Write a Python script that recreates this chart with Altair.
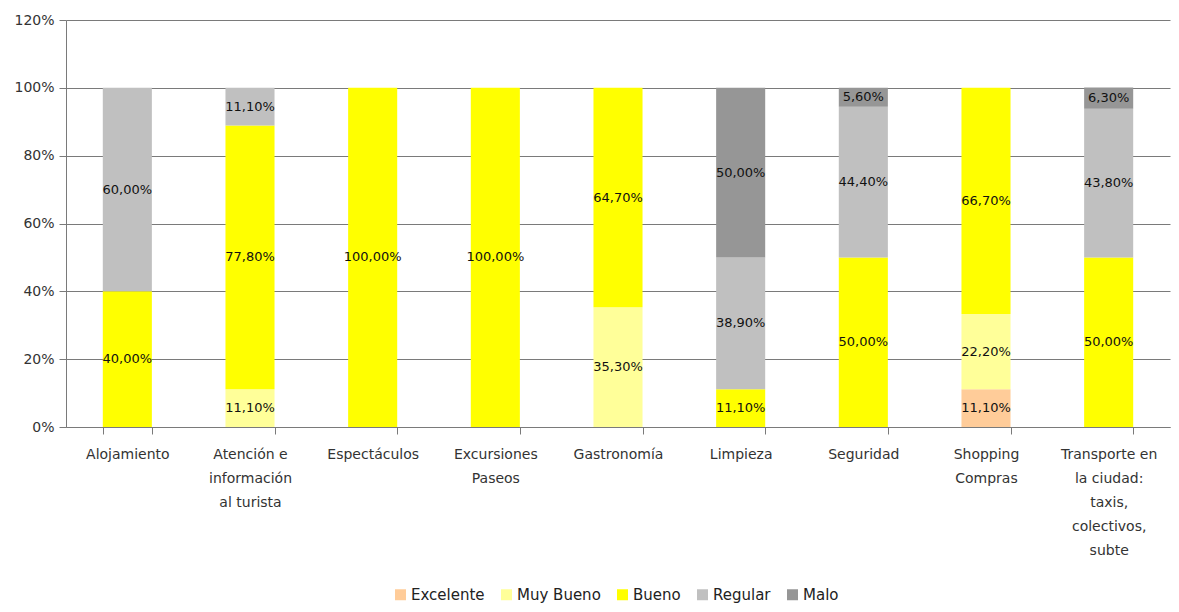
import altair as alt
import pandas as pd

categories = [
    "Alojamiento",
    "Atención e|información|al turista",
    "Espectáculos",
    "Excursiones|Paseos",
    "Gastronomía",
    "Limpieza",
    "Seguridad",
    "Shopping|Compras",
    "Transporte en|la ciudad:|taxis,|colectivos,|subte",
]
series = ["Excelente", "Muy Bueno", "Bueno", "Regular", "Malo"]
colors = ["#FFCC99", "#FFFF99", "#FFFF00", "#C0C0C0", "#969696"]

excelente = [0, 0, 0, 0, 0, 0, 0, 11.1, 0]
muy_bueno = [0, 11.1, 0, 0, 35.3, 0, 0, 22.2, 0]
bueno = [40.0, 77.8, 100.0, 100.0, 64.7, 11.1, 50.0, 66.7, 50.0]
regular = [60.0, 11.1, 0, 0, 0, 38.9, 44.4, 0, 43.8]
malo = [0, 0, 0, 0, 0, 50.0, 5.6, 0, 6.3]

y_ticks = [0, 20, 40, 60, 80, 100, 120]

rows = []
for si, (s, vals) in enumerate(zip(series, [excelente, muy_bueno, bueno, regular, malo])):
    for c, v in zip(categories, vals):
        if v > 0:
            rows.append({
                "cat": c,
                "serie": s,
                "ord": si,
                "value": v,
                "label": f"{v:.2f}".replace(".", ",") + "%",
            })
df = pd.DataFrame(rows)

FONT = "DejaVu Sans"
GRID = "#7a7a7a"

x_enc = alt.X(
    "cat:N",
    sort=categories,
    title=None,
    scale=alt.Scale(paddingInner=0.6, paddingOuter=0.3),
    axis=alt.Axis(
        labelAngle=0,
        labelExpr="split(datum.label, '|')",
        labelFont=FONT,
        labelFontSize=14,
        labelColor="#333333",
        labelLineHeight=24,
        labelPadding=13,
        labelLimit=200,
        tickBand="extent",
        tickSize=7,
        tickColor=GRID,
        domainColor=GRID,
        grid=False,
    ),
)

base = alt.Chart(df).transform_stack(
    stack="value",
    groupby=["cat"],
    as_=["y0", "y1"],
    sort=[alt.SortField("ord", order="ascending")],
).transform_calculate(mid="(datum.y0 + datum.y1) / 2")

bars = base.mark_bar(strokeWidth=0).encode(
    x=x_enc,
    y=alt.Y(
        "y0:Q",
        title=None,
        scale=alt.Scale(domain=[0, 120], nice=False),
        axis=alt.Axis(
            values=y_ticks,
            labelExpr="datum.value + '%'",
            labelFont=FONT,
            labelFontSize=14,
            labelColor="#333333",
            labelPadding=5,
            tickSize=7,
            tickColor=GRID,
            domainColor=GRID,
            gridColor=GRID,
            gridOpacity=1,
            minExtent=50,
            maxExtent=50,
        ),
    ),
    y2="y1:Q",
    color=alt.Color(
        "serie:N",
        sort=series,
        scale=alt.Scale(domain=series, range=colors),
        legend=alt.Legend(
            title=None,
            orient="none",
            direction="horizontal",
            legendX=327,
            legendY=567,
            symbolType="square",
            symbolSize=121,
            symbolStrokeWidth=0,
            symbolOpacity=1,
            labelFont=FONT,
            labelFontSize=15,
            labelColor="#222222",
            labelOffset=3,
            columnPadding=14,
        ),
    ),
)

text = base.mark_text(font=FONT, fontSize=13, color="#111111").encode(
    x=alt.X("cat:N", sort=categories),
    y=alt.Y("mid:Q"),
    text="label:N",
)

chart = (
    alt.layer(bars, text)
    .properties(
        width=1104,
        height=407,
        autosize=alt.AutoSizeParams(type="none"),
        padding={"left": 58, "top": 12, "right": 1, "bottom": 176},
    )
    .configure_view(stroke=None)
)

chart.save("out.html", embed_options={"renderer": "svg", "actions": False})
